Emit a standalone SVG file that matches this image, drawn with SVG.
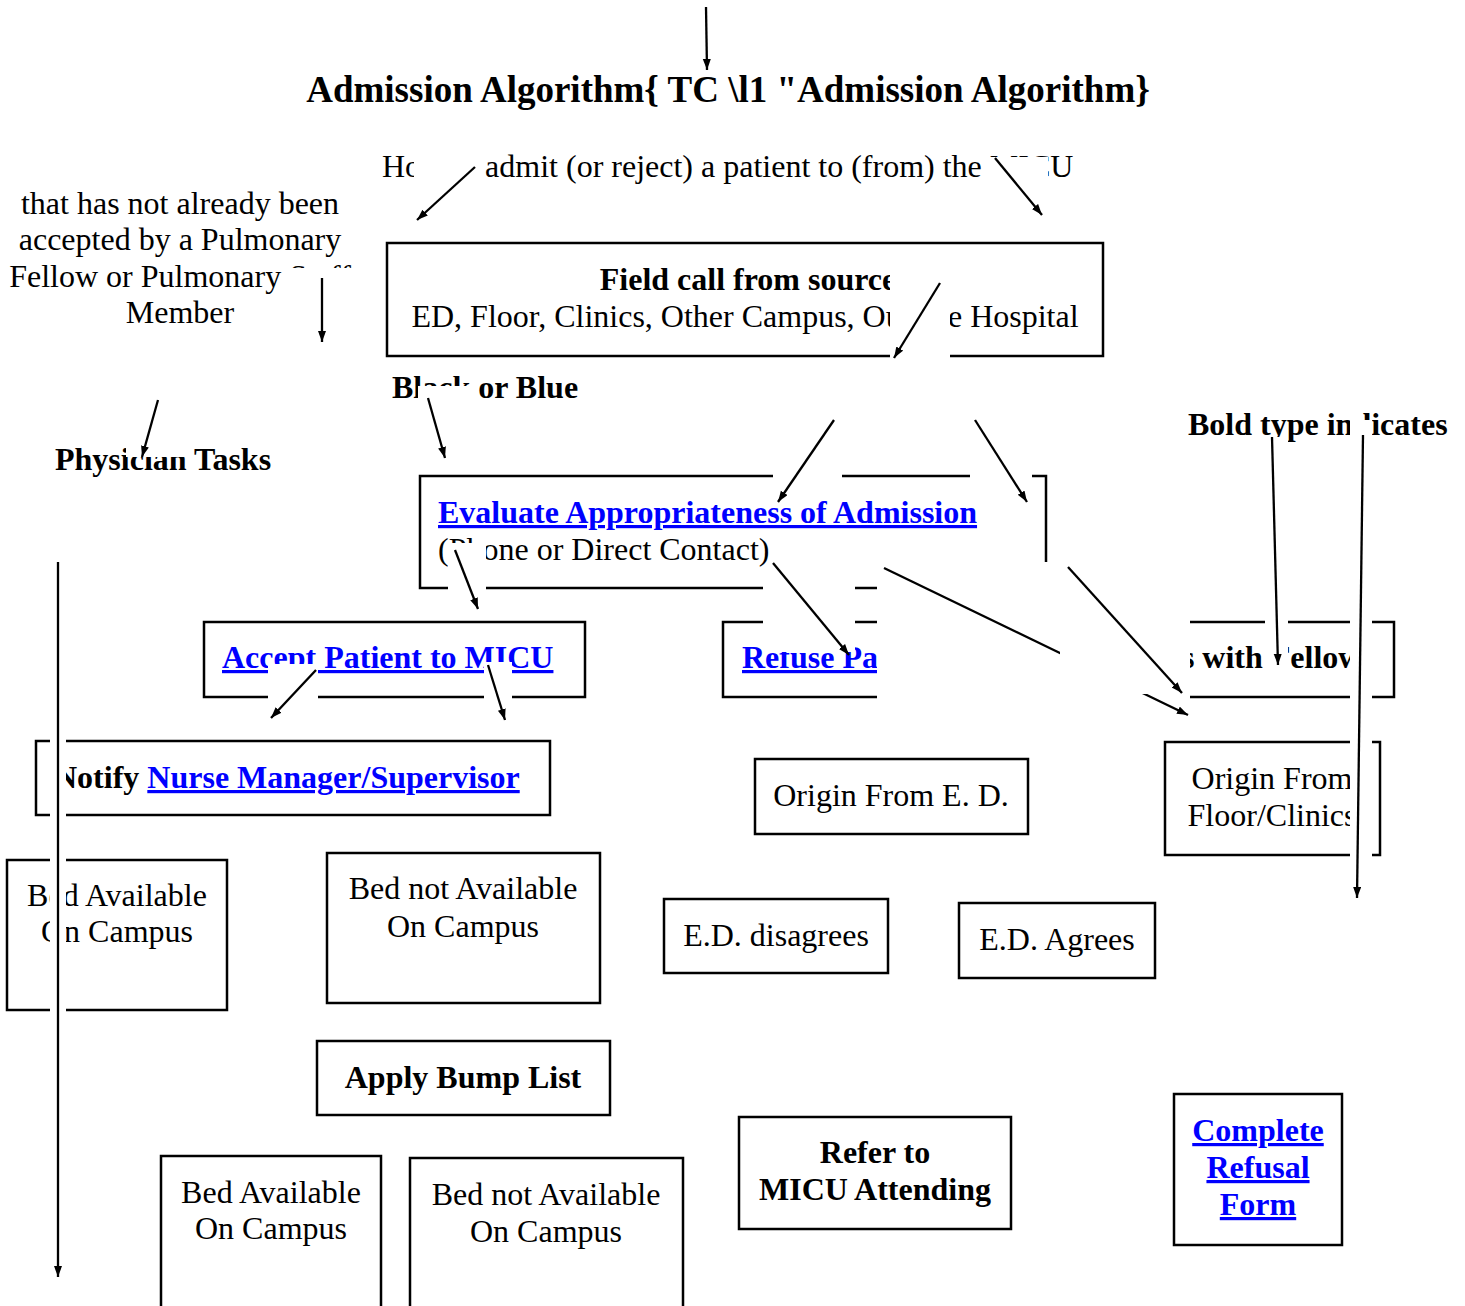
<svg xmlns="http://www.w3.org/2000/svg" width="1465" height="1306" viewBox="0 0 1465 1306">
<style>
text{font-family:"Liberation Serif","Times New Roman",serif;font-size:32px;fill:#000}
.b{font-weight:bold}
.t{font-size:37px;font-weight:bold}
.lk{fill:#0000ff;font-weight:bold;text-decoration:underline}
.c{text-anchor:middle}
.box{fill:#fff;stroke:#000;stroke-width:2.5}
.mask{fill:#fff;stroke:none}
.ln{stroke:#000;stroke-width:2.3;fill:none;marker-end:url(#ah)}
</style>
<defs>
<marker id="ah" markerUnits="userSpaceOnUse" markerWidth="12" markerHeight="10" refX="11" refY="4" orient="auto">
<path d="M0,0 L11,4 L0,8 Z" fill="#000"/>
</marker>
</defs>
<rect width="1465" height="1306" fill="#fff"/>

<g id="labels">
<g id="title"><text class="t c" x="728" y="102">Admission Algorithm{ TC \l1 "Admission Algorithm}</text></g>
<g id="subtitle"><text x="382" y="177">How to admit (or reject) a patient to (from) the MICU</text></g>
<g id="note-left"><text class="c" x="180" y="214">that has not already been</text><text class="c" x="180" y="250">accepted by a Pulmonary</text><text class="c" x="180" y="287">Fellow or Pulmonary Staff</text><text class="c" x="180" y="323">Member</text></g>
<g id="black-blue"><text class="b" x="392" y="398">Black or Blue</text></g>
<g id="physician-tasks"><text class="b" x="55" y="470">Physician Tasks</text></g>
<g id="bold-type"><text class="b" x="1188" y="435">Bold type indicates</text></g>
</g>

<g id="n-field"><rect class="box" x="387" y="243" width="716" height="113"/><text class="b c" x="748" y="290">Field call from source</text><text class="c" x="745" y="327">ED, Floor, Clinics, Other Campus, Outside Hospital</text></g>
<g id="n-evaluate"><rect class="box" x="420" y="476" width="626" height="112"/><text class="lk" x="438" y="523">Evaluate Appropriateness of Admission</text><text x="438" y="560">(Phone or Direct Contact)</text></g>
<g id="n-accept"><rect class="box" x="204" y="622" width="381" height="75"/><text class="lk" x="222" y="668">Accept Patient to MICU</text></g>
<g id="n-refuse"><rect class="box" x="723" y="622" width="300" height="75"/><text class="lk" x="742" y="668">Refuse Patient</text></g>
<g id="n-discuss"><rect class="box" x="1060" y="622" width="334" height="75"/><text class="b" x="1093" y="668">Discuss with Fellow</text></g>
<g id="n-notify"><rect class="box" x="36" y="741" width="514" height="74"/><text class="b" x="54" y="788">Notify <tspan class="lk">Nurse Manager/Supervisor</tspan></text></g>
<g id="n-origin-ed"><rect class="box" x="755" y="759" width="273" height="75"/><text class="c" x="891" y="806">Origin From E. D.</text></g>
<g id="n-origin-floor"><rect class="box" x="1165" y="742" width="215" height="113"/><text class="c" x="1272" y="789">Origin From</text><text class="c" x="1272" y="826">Floor/Clinics</text></g>
<g id="n-bed-avail-1"><rect class="box" x="7" y="860" width="220" height="150"/><text class="c" x="117" y="906">Bed Available</text><text class="c" x="117" y="942">On Campus</text></g>
<g id="n-bed-not-1"><rect class="box" x="327" y="853" width="273" height="150"/><text class="c" x="463" y="899">Bed not Available</text><text class="c" x="463" y="937">On Campus</text></g>
<g id="n-ed-disagrees"><rect class="box" x="664" y="899" width="224" height="74"/><text class="c" x="776" y="946">E.D. disagrees</text></g>
<g id="n-ed-agrees"><rect class="box" x="959" y="903" width="196" height="75"/><text class="c" x="1057" y="950">E.D. Agrees</text></g>
<g id="n-bump"><rect class="box" x="317" y="1041" width="293" height="74"/><text class="b c" x="463" y="1088">Apply Bump List</text></g>
<g id="n-bed-avail-2"><rect class="box" x="161" y="1156" width="220" height="170"/><text class="c" x="271" y="1203">Bed Available</text><text class="c" x="271" y="1239">On Campus</text></g>
<g id="n-bed-not-2"><rect class="box" x="410" y="1158" width="273" height="170"/><text class="c" x="546" y="1205">Bed not Available</text><text class="c" x="546" y="1242">On Campus</text></g>
<g id="n-refer"><rect class="box" x="739" y="1117" width="272" height="112"/><text class="b c" x="875" y="1163">Refer to</text><text class="b c" x="875" y="1200">MICU Attending</text></g>
<g id="n-refusal-form"><rect class="box" x="1174" y="1094" width="168" height="151"/><text class="lk c" x="1258" y="1141">Complete</text><text class="lk c" x="1258" y="1178">Refusal</text><text class="lk c" x="1258" y="1215">Form</text></g>

<g id="connectors">
<g><line class="ln" x1="706" y1="7" x2="707" y2="70"/></g>
<g><rect class="mask" x="414" y="150" width="65" height="72"/><line class="ln" x1="475" y1="167" x2="417" y2="220"/></g>
<g><rect class="mask" x="988" y="157" width="60" height="62"/><line class="ln" x1="995" y1="158" x2="1042" y2="215"/></g>
<g><rect class="mask" x="287" y="268" width="68" height="76"/><line class="ln" x1="322" y1="278" x2="322" y2="342"/></g>
<g><rect class="mask" x="126" y="398" width="64" height="59"/><line class="ln" x1="158" y1="400" x2="142" y2="457"/></g>
<g><rect class="mask" x="418" y="386" width="54" height="75"/><line class="ln" x1="428" y1="398" x2="445" y2="458"/></g>
<g><rect class="mask" x="890" y="268" width="60" height="92"/><line class="ln" x1="940" y1="283" x2="894" y2="358"/></g>
<g><rect class="mask" x="773" y="414" width="69" height="80"/><line class="ln" x1="834" y1="420" x2="778" y2="502"/></g>
<g><rect class="mask" x="970" y="414" width="62" height="92"/><line class="ln" x1="975" y1="420" x2="1027" y2="502"/></g>
<g><rect class="mask" x="448" y="543" width="38" height="68"/><line class="ln" x1="455" y1="550" x2="478" y2="609"/></g>
<g><rect class="mask" x="763" y="567" width="92" height="85"/><line class="ln" x1="773" y1="563" x2="849" y2="655"/></g>
<g><rect class="mask" x="877" y="562" width="313" height="157"/><line class="ln" x1="884" y1="568" x2="1188" y2="715"/></g>
<g><rect class="mask" x="1060" y="560" width="128" height="134"/><line class="ln" x1="1068" y1="567" x2="1182" y2="693"/></g>
<g><rect class="mask" x="268" y="664" width="50" height="56"/><line class="ln" x1="316" y1="670" x2="271" y2="718"/></g>
<g><rect class="mask" x="484" y="662" width="28" height="60"/><line class="ln" x1="488" y1="665" x2="505" y2="720"/></g>
<g><rect class="mask" x="50" y="560" width="16" height="720"/><line class="ln" x1="58" y1="562" x2="58" y2="1277"/></g>
<g><rect class="mask" x="1265" y="437" width="23" height="231"/><line class="ln" x1="1272" y1="437" x2="1278" y2="665"/></g>
<g><rect class="mask" x="1350" y="420" width="22" height="480"/><line class="ln" x1="1363" y1="435" x2="1357" y2="898"/></g>
</g>
</svg>
